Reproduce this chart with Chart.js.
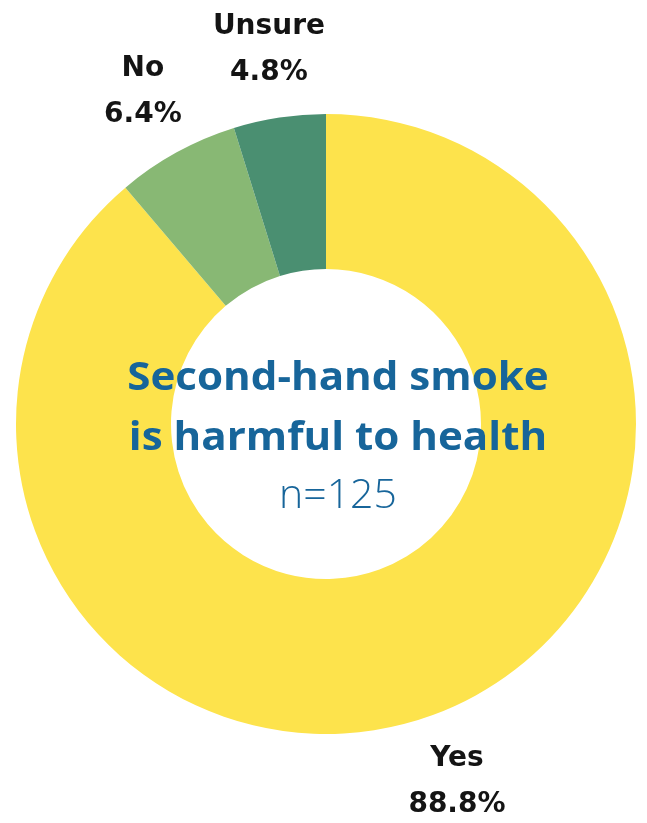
<!DOCTYPE html>
<html>
<head>
<meta charset="utf-8">
<script src="https://cdn.jsdelivr.net/npm/chart.js@4.4.1/dist/chart.umd.min.js"></script>
<style>
html,body{margin:0;padding:0;background:#fff;}
#wrap{width:647px;height:823px;position:relative;}
</style>
</head>
<body>
<div id="wrap"><canvas id="c" width="647" height="823"></canvas></div>
<script>
const categories = ["Yes", "No", "Unsure"];
const percentages = [88.8, 6.4, 4.8];
const sliceColors = ["#fde34c", "#88b874", "#4a8f71"];
const centerTitle = ["Second-hand smoke", "is harmful to health"];
const centerSubtitle = "n=125";

const outsideLabels = {
  id: "outsideLabels",
  afterDatasetsDraw(chart) {
    const ctx = chart.ctx;
    const meta = chart.getDatasetMeta(0);
    ctx.save();
    ctx.fillStyle = "#141414";
    ctx.font = "bold 28px 'DejaVu Sans'";
    ctx.textAlign = "center";
    ctx.textBaseline = "middle";
    meta.data.forEach((arc, i) => {
      const p = arc.getProps(["x", "y", "startAngle", "endAngle", "outerRadius"], true);
      const mid = (p.startAngle + p.endAngle) / 2;
      const r = p.outerRadius + 70;
      const cx = p.x + Math.cos(mid) * r;
      const cy = p.y + Math.sin(mid) * r;
      ctx.fillText(categories[i], cx, cy - 22);
      ctx.fillText(percentages[i].toFixed(1) + "%", cx, cy + 24);
    });
    ctx.restore();
  }
};

const centerText = {
  id: "centerText",
  afterDraw(chart) {
    const ctx = chart.ctx;
    const arc = chart.getDatasetMeta(0).data[0];
    const x = arc.x + 12, y = arc.y;
    ctx.save();
    ctx.fillStyle = "#17659a";
    ctx.textAlign = "center";
    ctx.textBaseline = "alphabetic";
    ctx.translate(x, y);
    ctx.save();
    ctx.scale(1.08, 1);
    ctx.font = "bold 39px 'Open Sans'";
    ctx.fillText(centerTitle[0], 0, -34);
    ctx.fillText(centerTitle[1], 0, 26);
    ctx.restore();
    ctx.font = "300 41px 'Open Sans'";
    ctx.fillText(centerSubtitle, 0, 84);
    ctx.restore();
  }
};

new Chart(document.getElementById("c"), {
  type: "doughnut",
  data: {
    labels: categories,
    datasets: [{
      data: percentages,
      backgroundColor: sliceColors,
      borderWidth: 0
    }]
  },
  options: {
    responsive: false,
    animation: false,
    cutout: "50%",
    layout: { padding: { left: 16, right: 11, top: 114, bottom: 89 } },
    plugins: { legend: { display: false }, tooltip: { enabled: false } }
  },
  plugins: [outsideLabels, centerText]
});
</script>
</body>
</html>
